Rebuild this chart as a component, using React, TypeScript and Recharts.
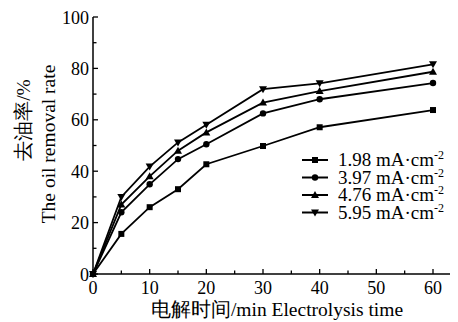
import React from "react";
import { LineChart, Line, XAxis, YAxis } from "recharts";

const times = [0, 5, 10, 15, 20, 30, 40, 60];
const s198 = [0, 15.6, 26, 33, 42.7, 49.8, 57.1, 63.8];
const s397 = [0, 24, 34.9, 44.7, 50.5, 62.5, 68, 74.3];
const s476 = [0, 27, 38, 48, 55.1, 66.7, 71.2, 78.7];
const s595 = [0, 30, 41.8, 51.2, 58.1, 71.9, 74.2, 81.6];
const seriesNames = ["1.98", "3.97", "4.76", "5.95"];
const seriesKeys = ["a", "b", "c", "d"];
const markerTypes = ["square", "circle", "up", "down"];
const xMajor = [0, 10, 20, 30, 40, 50, 60];
const xMinor = [5, 15, 25, 35, 45, 55];
const yMajor = [0, 20, 40, 60, 80, 100];
const yMinor = [10, 30, 50, 70, 90];

const data = times.map((t, i) => ({ t, a: s198[i], b: s397[i], c: s476[i], d: s595[i] }));

const SERIF = "Liberation Serif, Times New Roman, Times, serif";

function MarkerShape({ type, cx, cy }: { type: string; cx: number; cy: number }) {
  if (type === "square") return <rect x={cx - 3} y={cy - 3} width={6} height={6} fill="#000" />;
  if (type === "circle") return <circle cx={cx} cy={cy} r={3.2} fill="#000" />;
  if (type === "up")
    return <polygon points={`${cx},${cy - 4} ${cx - 4},${cy + 3} ${cx + 4},${cy + 3}`} fill="#000" />;
  return <polygon points={`${cx},${cy + 4} ${cx - 4},${cy - 3} ${cx + 4},${cy - 3}`} fill="#000" />;
}

const makeDot = (type: string) => (props: any) => {
  const { cx, cy, index } = props;
  if (cx == null || cy == null) return <g key={index} />;
  return <MarkerShape key={index} type={type} cx={cx} cy={cy} />;
};

const XTick = (props: any) => {
  const { x, y, payload } = props;
  const v = payload.value;
  const major = xMajor.includes(v);
  return (
    <g>
      <line x1={x} x2={x} y1={y} y2={y - (major ? 5 : 3.5)} stroke="#000" strokeWidth={1.3} />
      {major && (
        <text x={x} y={y + 20} textAnchor="middle" fontSize={18} fontFamily={SERIF} fill="#000">
          {v}
        </text>
      )}
    </g>
  );
};

const YTick = (props: any) => {
  const { x, y, payload } = props;
  const v = payload.value;
  const major = yMajor.includes(v);
  return (
    <g>
      <line x1={x} x2={x + (major ? 5 : 3.5)} y1={y} y2={y} stroke="#000" strokeWidth={1.3} />
      {major && (
        <text x={x - 4} y={y + 6.5} textAnchor="end" fontSize={18} fontFamily={SERIF} fill="#000">
          {v}
        </text>
      )}
    </g>
  );
};

export default function App() {
  return (
    <div style={{ position: "absolute", left: 0, top: 0, width: 458, height: 322, background: "#fff" }}>
      <LineChart width={458} height={322} data={data} margin={{ top: 17, right: 8, bottom: 0, left: 0 }}>
        <XAxis
          dataKey="t"
          type="number"
          domain={[0, 63]}
          ticks={[...xMajor, ...xMinor].sort((a, b) => a - b)}
          tick={<XTick />}
          tickSize={0}
          tickMargin={0}
          height={48}
          interval={0}
          axisLine={{ stroke: "#000", strokeWidth: 1.5 }}
          tickLine={false}
        />
        <YAxis
          type="number"
          domain={[0, 100]}
          ticks={[...yMajor, ...yMinor].sort((a, b) => a - b)}
          tick={<YTick />}
          tickSize={0}
          tickMargin={0}
          width={93}
          interval={0}
          axisLine={{ stroke: "#000", strokeWidth: 1.5 }}
          tickLine={false}
        />
        {seriesKeys.map((k, i) => (
          <Line
            key={k}
            dataKey={k}
            stroke="#000"
            strokeWidth={1.8}
            dot={makeDot(markerTypes[i])}
            activeDot={false}
            isAnimationActive={false}
          />
        ))}
      </LineChart>
      <svg
        width={458}
        height={322}
        style={{ position: "absolute", left: 0, top: 0, pointerEvents: "none" }}
      >
        <text
          transform="translate(23,120) rotate(-90)"
          dy="0.35em"
          textAnchor="middle"
          fontSize={19.5}
          fontFamily={SERIF}
          fill="#000"
        >
          去油率/%
        </text>
        <text
          transform="translate(48,144) rotate(-90)"
          dy="0.35em"
          textAnchor="middle"
          fontSize={19.5}
          fontFamily={SERIF}
          fill="#000"
        >
          The oil removal rate
        </text>
        <text x={277} y={316} textAnchor="middle" fontSize={19.5} fontFamily={SERIF} fill="#000">
          电解时间/min Electrolysis time
        </text>
        {seriesNames.map((n, i) => {
          const cy = 160 + i * 17.5;
          return (
            <g key={n}>
              <line x1={302} x2={328} y1={cy} y2={cy} stroke="#000" strokeWidth={2} />
              <MarkerShape type={markerTypes[i]} cx={315} cy={cy} />
              <text x={338} y={cy + 6} fontSize={19} fontFamily={SERIF} fill="#000">
                {n} mA·cm
                <tspan fontSize={12} dy={-7}>-2</tspan>
              </text>
            </g>
          );
        })}
      </svg>
    </div>
  );
}
